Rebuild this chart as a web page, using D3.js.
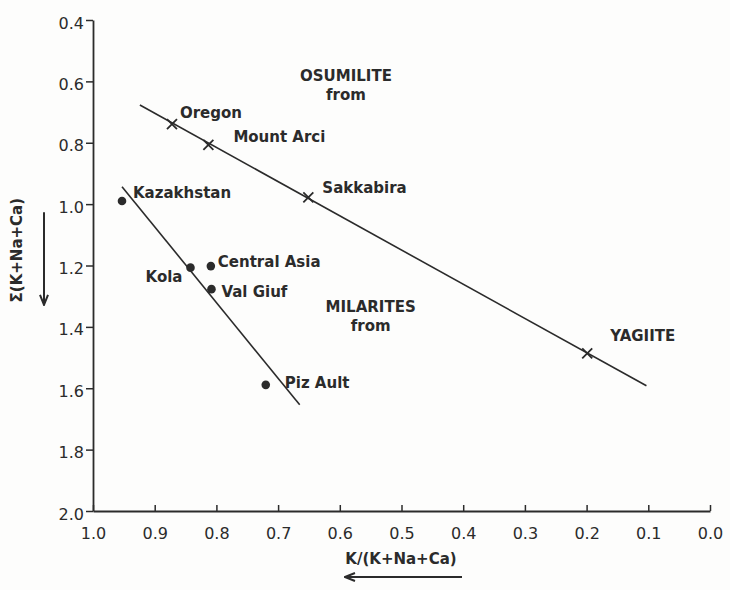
<!DOCTYPE html>
<html>
<head>
<meta charset="utf-8">
<script src="https://cdn.jsdelivr.net/npm/d3@7/dist/d3.min.js"></script>
<style>
  html, body { margin: 0; padding: 0; background: #fdfdfc; }
  svg { display: block; }
</style>
</head>
<body>
<svg id="chart" width="730" height="590"></svg>
<script>
// ---- data ----
const osumiliteNames = ["Oregon", "Mount Arci", "Sakkabira", "YAGIITE"];
const osumiliteK     = [0.872, 0.813, 0.651, 0.199];
const osumiliteSum   = [0.739, 0.807, 0.978, 1.486];

const milariteNames  = ["Kazakhstan", "Kola", "Central Asia", "Val Giuf", "Piz Ault"];
const milariteK      = [0.953, 0.842, 0.809, 0.808, 0.720];
const milariteSum    = [0.990, 1.207, 1.202, 1.277, 1.589];

const osumiliteLineK   = [0.924, 0.103];
const osumiliteLineSum = [0.677, 1.592];
const milariteLineK    = [0.953, 0.665];
const milariteLineSum  = [0.943, 1.654];

const xTickValues = [1.0, 0.9, 0.8, 0.7, 0.6, 0.5, 0.4, 0.3, 0.2, 0.1, 0.0];
const xTickLabels = ["1.0", "0.9", "0.8", "0.7", "0.6", "0.5", "0.4", "0.3", "0.2", "0.1", "0.0"];
const yTickValues = [0.4, 0.6, 0.8, 1.0, 1.2, 1.4, 1.6, 1.8, 2.0];
const yTickLabels = ["0.4", "0.6", "0.8", "1.0", "1.2", "1.4", "1.6", "1.8", "2.0"];

const xTitle = "K/(K+Na+Ca)";
const yTitle = "\u03A3(K+Na+Ca)";
const regionTitles = [["OSUMILITE", "from"], ["MILARITES", "from"]];

// ---- layout (label offsets in px relative to their point) ----
const osumiliteLabelLayout = [
  {dx: 8,  dy: -6, anchor: "start"},
  {dx: 25, dy: -3, anchor: "start"},
  {dx: 14, dy: -4, anchor: "start"},
  {dx: 23, dy: -12, anchor: "start"}
];
const milariteLabelLayout = [
  {dx: 11, dy: -3, anchor: "start"},
  {dx: -8, dy: 14, anchor: "end"},
  {dx: 7,  dy: 1,  anchor: "start"},
  {dx: 10, dy: 8,  anchor: "start"},
  {dx: 19, dy: 3,  anchor: "start"}
];
// region title anchors in data units
const regionAnchorK   = [0.59, 0.55];
const regionAnchorSum = [0.600, 1.350];

const ink = "#2b2b2b";
const FONT = "'DejaVu Sans', Verdana, sans-serif";
const svg = d3.select("#chart");

const x = d3.scaleLinear().domain([1.0, 0.0]).range([93, 710]);
const y = d3.scaleLinear().domain([0.4, 2.0]).range([20, 511]);

// axes
const yAxis = d3.axisLeft(y)
  .tickValues(yTickValues)
  .tickFormat((d, i) => yTickLabels[i])
  .tickSizeInner(7).tickSizeOuter(0).tickPadding(2);
const xAxis = d3.axisBottom(x)
  .tickValues(xTickValues)
  .tickFormat((d, i) => xTickLabels[i])
  .tickSizeInner(-6).tickSizeOuter(0).tickPadding(17);

const gy = svg.append("g").attr("transform", `translate(${x(1.0)},0)`).call(yAxis);
const gx = svg.append("g").attr("transform", `translate(0,${y(2.0)})`).call(xAxis);
[gx, gy].forEach(g => {
  g.selectAll("path.domain").attr("stroke", ink).attr("stroke-width", 1.8);
  g.selectAll(".tick line").attr("stroke", ink).attr("stroke-width", 1.5);
  g.selectAll(".tick text")
    .attr("fill", ink)
    .style("font-family", FONT)
    .style("font-size", "16px");
});
gy.selectAll(".tick text").attr("dy", "0.5em");

// axis titles
svg.append("text")
  .attr("x", 401)
  .attr("y", 564)
  .attr("text-anchor", "middle")
  .attr("fill", ink)
  .style("font-family", FONT)
  .style("font-size", "15px").style("font-weight", "bold")
  .text(xTitle);

svg.append("text")
  .attr("transform", `translate(22,${y(1.15)}) rotate(-90)`)
  .attr("text-anchor", "middle")
  .attr("fill", ink)
  .style("font-family", FONT)
  .style("font-size", "15px").style("font-weight", "bold")
  .text(yTitle);

// arrows
const defs = svg.append("defs");
defs.append("marker").attr("id", "ah")
  .attr("viewBox", "0 0 12 10").attr("refX", 11).attr("refY", 5)
  .attr("markerWidth", 12).attr("markerHeight", 10).attr("markerUnits", "userSpaceOnUse")
  .attr("orient", "auto")
  .append("path").attr("d", "M1,1 L11,5 L1,9").attr("fill", "none")
  .attr("stroke", ink).attr("stroke-width", 2);

svg.append("line")
  .attr("x1", 44).attr("x2", 44)
  .attr("y1", y(1.0) + 8).attr("y2", y(1.4) - 22)
  .attr("stroke", ink).attr("stroke-width", 2).attr("marker-end", "url(#ah)");

svg.append("line")
  .attr("x1", 462).attr("x2", 345)
  .attr("y1", 577).attr("y2", 577)
  .attr("stroke", ink).attr("stroke-width", 2).attr("marker-end", "url(#ah)");

// trend lines
const line = d3.line().x(d => x(d[0])).y(d => y(d[1]));
svg.append("path")
  .attr("d", line(d3.zip(osumiliteLineK, osumiliteLineSum)))
  .attr("fill", "none").attr("stroke", ink).attr("stroke-width", 1.6);
svg.append("path")
  .attr("d", line(d3.zip(milariteLineK, milariteLineSum)))
  .attr("fill", "none").attr("stroke", ink).attr("stroke-width", 1.6);

// osumilite crosses
const osu = svg.append("g");
osumiliteK.forEach((k, i) => {
  const cx = x(k), cy = y(osumiliteSum[i]), s = 5;
  osu.append("path")
    .attr("d", `M${cx - s},${cy - s}L${cx + s},${cy + s}M${cx - s},${cy + s}L${cx + s},${cy - s}`)
    .attr("stroke", ink).attr("stroke-width", 1.8).attr("fill", "none");
  const L = osumiliteLabelLayout[i];
  osu.append("text")
    .attr("x", cx + L.dx).attr("y", cy + L.dy)
    .attr("text-anchor", L.anchor)
    .attr("fill", ink)
    .style("font-family", FONT)
    .style("font-size", "15px").style("font-weight", "bold")
    .text(osumiliteNames[i]);
});

// milarite dots
const mil = svg.append("g");
milariteK.forEach((k, i) => {
  const cx = x(k), cy = y(milariteSum[i]);
  mil.append("circle").attr("cx", cx).attr("cy", cy).attr("r", 4.3).attr("fill", ink);
  const L = milariteLabelLayout[i];
  mil.append("text")
    .attr("x", cx + L.dx).attr("y", cy + L.dy)
    .attr("text-anchor", L.anchor)
    .attr("fill", ink)
    .style("font-family", FONT)
    .style("font-size", "15px").style("font-weight", "bold")
    .text(milariteNames[i]);
});

// region titles
regionTitles.forEach((lines, i) => {
  const t = svg.append("text")
    .attr("text-anchor", "middle").attr("fill", ink)
    .style("font-family", FONT)
    .style("font-size", "15px").style("font-weight", "bold");
  lines.forEach((s, j) => {
    t.append("tspan")
      .attr("x", x(regionAnchorK[i]))
      .attr("y", y(regionAnchorSum[i]) + j * 19)
      .text(s);
  });
});
</script>
</body>
</html>
